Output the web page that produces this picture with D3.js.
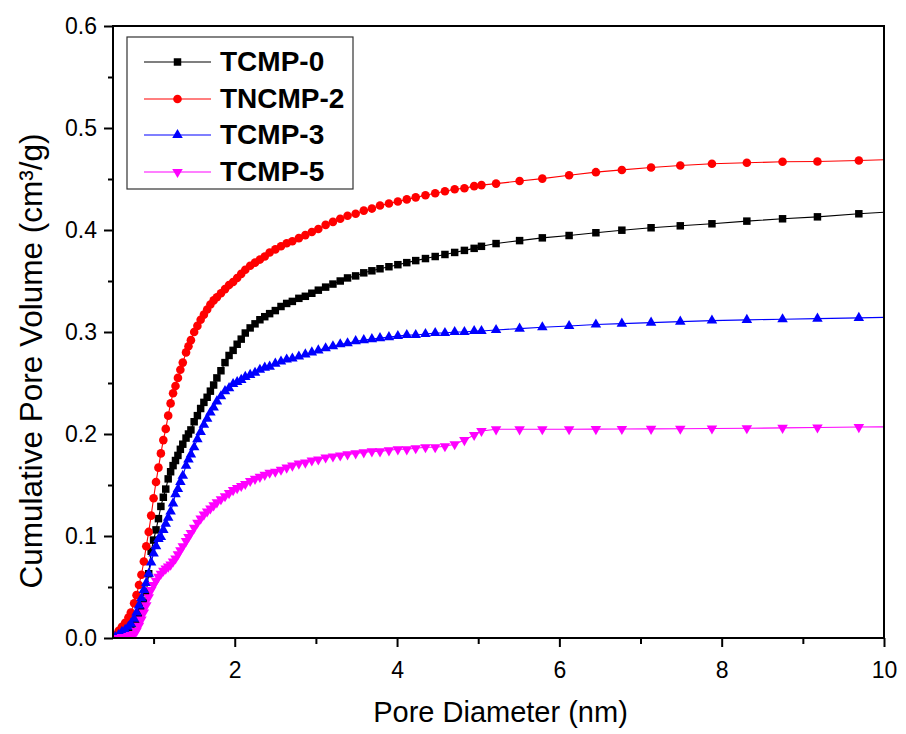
<!DOCTYPE html>
<html><head><meta charset="utf-8">
<script src="https://cdn.jsdelivr.net/npm/d3@7"></script>
<style>body{margin:0;background:#fff}</style>
</head><body>
<svg id="c" width="906" height="734"></svg>
<script>
// ---- data ----
const poreDiameter = [0.53,0.57,0.61,0.65,0.69,0.72,0.76,0.79,0.82,0.85,
0.88,0.91,0.94,0.97,1.00,1.03,1.06,1.09,1.12,1.15,
1.18,1.21,1.24,1.27,1.30,1.33,1.36,1.40,1.43,1.46,
1.50,1.54,1.58,1.62,1.66,1.70,1.74,1.78,1.83,1.88,
1.93,1.98,2.03,2.08,2.13,2.19,2.25,2.31,2.37,2.43,
2.50,2.57,2.64,2.71,2.79,2.87,2.95,3.03,3.12,3.21,
3.30,3.39,3.49,3.59,3.69,3.79,3.90,4.01,4.12,4.23,
4.35,4.47,4.59,4.71,4.83,4.95,5.04,
5.22,5.51,5.79,6.12,6.45,6.77,7.13,7.49,7.88,8.31,8.75,9.18,9.69,10.22];

const tcmp0 = [0.001,0.002,0.004,0.006,0.009,0.011,0.014,0.017,0.021,0.027,
0.035,0.045,0.063,0.085,0.096,0.106,0.117,0.129,0.138,0.146,
0.156,0.163,0.169,0.174,0.179,0.185,0.190,0.196,0.200,0.204,
0.212,0.218,0.225,0.231,0.236,0.242,0.248,0.255,0.262,0.270,
0.277,0.282,0.288,0.293,0.299,0.304,0.308,0.312,0.315,0.318,
0.321,0.325,0.328,0.330,0.333,0.335,0.338,0.341,0.344,0.347,
0.350,0.353,0.355,0.358,0.360,0.362,0.364,0.366,0.368,0.370,
0.372,0.374,0.376,0.378,0.380,0.382,0.384,
0.3867,0.3896,0.3923,0.3946,0.3973,0.3998,0.4022,0.4041,0.4061,0.4087,0.4110,0.4129,0.4159,0.4185];

const tncmp2 = [0.003,0.007,0.011,0.015,0.020,0.025,0.034,0.042,0.052,0.062,
0.075,0.090,0.104,0.120,0.137,0.153,0.167,0.181,0.194,0.205,
0.218,0.230,0.240,0.247,0.255,0.263,0.270,0.280,0.286,0.292,
0.300,0.306,0.312,0.317,0.322,0.327,0.331,0.334,0.338,0.342,
0.346,0.349,0.353,0.357,0.361,0.365,0.368,0.371,0.374,0.378,
0.381,0.384,0.387,0.389,0.392,0.395,0.398,0.401,0.405,0.408,
0.411,0.414,0.416,0.419,0.421,0.424,0.426,0.428,0.430,0.432,
0.434,0.436,0.438,0.440,0.441,0.443,0.444,
0.4455,0.4480,0.4504,0.4537,0.4567,0.4589,0.4613,0.4632,0.4649,0.4659,0.4669,0.4672,0.4681,0.4695];

const tcmp3 = [0.001,0.003,0.006,0.008,0.011,0.014,0.019,0.025,0.032,0.039,
0.047,0.054,0.063,0.074,0.083,0.090,0.097,0.099,0.106,0.112,
0.118,0.124,0.132,0.141,0.146,0.153,0.159,0.169,0.175,0.180,
0.187,0.195,0.202,0.209,0.215,0.221,0.226,0.232,0.237,0.242,
0.245,0.249,0.251,0.253,0.256,0.258,0.260,0.263,0.265,0.266,
0.269,0.271,0.273,0.274,0.276,0.278,0.280,0.282,0.284,0.286,
0.288,0.289,0.291,0.292,0.293,0.294,0.295,0.296,0.297,0.297,
0.298,0.299,0.299,0.300,0.300,0.301,0.301,
0.3020,0.3033,0.3046,0.3059,0.3073,0.3082,0.3092,0.3102,0.3112,0.3119,0.3125,0.3131,0.3138,0.3147];

const tcmp5 = [0.000,0.000,0.001,0.001,0.002,0.003,0.004,0.007,0.012,0.018,
0.025,0.032,0.040,0.047,0.052,0.056,0.060,0.063,0.066,0.068,
0.070,0.072,0.075,0.078,0.082,0.086,0.090,0.095,0.099,0.103,
0.108,0.113,0.117,0.121,0.124,0.127,0.130,0.133,0.136,0.139,
0.142,0.145,0.147,0.149,0.151,0.154,0.156,0.158,0.160,0.162,
0.163,0.165,0.167,0.169,0.171,0.172,0.174,0.175,0.177,0.178,
0.179,0.180,0.181,0.182,0.183,0.183,0.184,0.185,0.185,0.186,
0.187,0.187,0.188,0.190,0.194,0.199,0.203,
0.2046,0.2046,0.2047,0.2047,0.2048,0.2049,0.2050,0.2052,0.2054,0.2056,0.2060,0.2064,0.2068,0.2072];

const seriesNames = ["TCMP-0","TNCMP-2","TCMP-3","TCMP-5"];
const seriesColors = ["#000000","#ff0000","#0000ff","#ff00ff"];
const xMajorTicks = [2,4,6,8,10];
const xMinorTicks = [1,3,5,7,9];
const yMajorTicks = [0.0,0.1,0.2,0.3,0.4,0.5,0.6];
const yMinorTicks = [0.05,0.15,0.25,0.35,0.45,0.55];
const xTitle = "Pore Diameter (nm)";
const yTitle = "Cumulative Pore Volume (cm\u00B3/g)";

// ---- drawing ----
const svg = d3.select("#c");
const L=113, R=884, T=26, B=638;
const x = d3.scaleLinear().domain([0.5,10]).range([L,R]);
const y = d3.scaleLinear().domain([0,0.6]).range([B,T]);
const FONT = "'Liberation Sans', Arial, Helvetica, sans-serif";

svg.append("rect").attr("width",906).attr("height",734).attr("fill","#fff");

svg.append("defs").append("clipPath").attr("id","clip")
  .append("rect").attr("x",L).attr("y",T).attr("width",R-L).attr("height",B-T);

const symbols = [
  {type:d3.symbolSquare, size:56, rot:0},
  {type:d3.symbolCircle, size:58, rot:0},
  {type:d3.symbolTriangle, size:48, rot:0},
  {type:d3.symbolTriangle, size:48, rot:180}
];
const seriesData = [tcmp0,tncmp2,tcmp3,tcmp5];

const plot = svg.append("g").attr("clip-path","url(#clip)");
seriesData.forEach((vals,i)=>{
  const pts = poreDiameter.map((d,j)=>[d,vals[j]]);
  const g = plot.append("g");
  g.append("path").datum(pts)
    .attr("fill","none").attr("stroke",seriesColors[i]).attr("stroke-width",1.1)
    .attr("d", d3.line().x(d=>x(d[0])).y(d=>y(d[1])));
  const sym = d3.symbol().type(symbols[i].type).size(symbols[i].size);
  g.selectAll("path.m").data(pts).join("path").attr("class","m")
    .attr("d", sym())
    .attr("fill",seriesColors[i])
    .attr("transform", d=>`translate(${x(d[0])},${y(d[1])}) rotate(${symbols[i].rot})`);
});

// axes
function styleAxis(g, fs){
  g.select(".domain").remove();
  g.selectAll(".tick line").attr("stroke","#000").attr("stroke-width",2);
  g.selectAll(".tick text").attr("font-family",FONT).attr("font-size",fs).attr("fill","#000");
}
const xMaj = svg.append("g").attr("transform",`translate(0,${B})`)
  .call(d3.axisBottom(x).tickValues(xMajorTicks).tickSize(9).tickPadding(15).tickFormat(d3.format("d")));
styleAxis(xMaj, 23);
const xMin = svg.append("g").attr("transform",`translate(0,${B})`)
  .call(d3.axisBottom(x).tickValues(xMinorTicks).tickSize(6).tickFormat(""));
styleAxis(xMin, 23);
const yMaj = svg.append("g").attr("transform",`translate(${L},0)`)
  .call(d3.axisLeft(y).tickValues(yMajorTicks).tickSize(9).tickPadding(7).tickFormat(d3.format(".1f")));
styleAxis(yMaj, 23);
const yMin = svg.append("g").attr("transform",`translate(${L},0)`)
  .call(d3.axisLeft(y).tickValues(yMinorTicks).tickSize(5).tickFormat(""));
styleAxis(yMin, 23);

// frame
svg.append("rect").attr("x",L).attr("y",T).attr("width",R-L).attr("height",B-T)
  .attr("fill","none").attr("stroke","#000").attr("stroke-width",2);

// titles
svg.append("text").attr("x",(L+R)/2+2).attr("y",722).attr("text-anchor","middle")
  .attr("font-family",FONT).attr("font-size",29).text(xTitle);
svg.append("text").attr("transform","translate(42,361) rotate(-90)").attr("text-anchor","middle")
  .attr("font-family",FONT).attr("font-size",31.5).text(yTitle);

// legend
const lg = svg.append("g");
lg.append("rect").attr("x",127).attr("y",37).attr("width",226).attr("height",152)
  .attr("fill","#fff").attr("stroke","#333").attr("stroke-width",1.2);
const rowsY = [62,99,135,172];
seriesNames.forEach((n,i)=>{
  const ry = rowsY[i];
  lg.append("line").attr("x1",144).attr("x2",211).attr("y1",ry).attr("y2",ry)
    .attr("stroke",seriesColors[i]).attr("stroke-width",1.1);
  lg.append("path").attr("d",d3.symbol().type(symbols[i].type).size(symbols[i].size)())
    .attr("fill",seriesColors[i]).attr("transform",`translate(177.5,${ry}) rotate(${symbols[i].rot})`);
  lg.append("text").attr("x",220).attr("y",ry+9).attr("font-family",FONT)
    .attr("font-weight","bold").attr("font-size",28).text(n);
});
</script>
</body></html>
